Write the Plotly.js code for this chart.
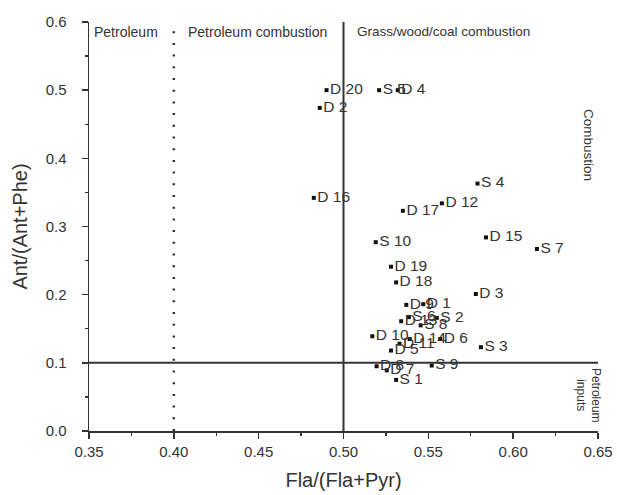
<!DOCTYPE html>
<html>
<head>
<meta charset="utf-8">
<script src="https://cdn.plot.ly/plotly-3.0.1.min.js"></script>
<style>html,body{margin:0;padding:0;background:#fff;}#chart{width:617px;height:495px;}</style>
</head>
<body>
<div id="chart"></div>
<script>
// Sample names
const sampleNames = ["D 20","S 5","D 4","D 2","D 16","S 4","D 12","D 17","S 10","D 15","S 7",
  "D 19","D 18","D 3","D 9","D 1","D 13","S 6","S 2","S 8","D 10","D 11","D 14","D 6",
  "S 3","D 5","D 8","D 7","S 1","S 9"];
// Fla/(Fla+Pyr)
const flaRatio = [0.490,0.521,0.532,0.486,0.4825,0.579,0.558,0.535,0.519,0.584,0.614,
  0.528,0.531,0.578,0.537,0.547,0.534,0.5385,0.555,0.5455,0.517,0.533,0.539,0.557,
  0.581,0.528,0.5195,0.5255,0.531,0.552];
// Ant/(Ant+Phe)
const antRatio = [0.500,0.500,0.500,0.474,0.342,0.363,0.334,0.323,0.277,0.284,0.267,
  0.241,0.218,0.201,0.185,0.186,0.161,0.167,0.166,0.155,0.139,0.128,0.135,0.135,
  0.123,0.118,0.095,0.089,0.075,0.096];
// Diagnostic thresholds
const flaPetroleum = 0.40;
const flaCombustion = 0.50;
const antThreshold = 0.10;

const trace = {
  x: flaRatio, y: antRatio, text: sampleNames,
  type: "scatter", mode: "markers+text",
  textposition: "middle right",
  marker: {symbol: "square", size: 4, color: "#111"},
  textfont: {family: "Liberation Sans, Arial, sans-serif", size: 15.5, color: "#333"},
  cliponaxis: false, hoverinfo: "none"
};

const lineCol = "#333";
const layout = {
  width: 617, height: 495,
  margin: {l: 89, r: 19, t: 22, b: 64},
  paper_bgcolor: "#fff", plot_bgcolor: "#fff",
  showlegend: false,
  font: {family: "Liberation Sans, Arial, sans-serif", color: "#333"},
  xaxis: {
    range: [0.35, 0.65], dtick: 0.05, tickformat: ".2f",
    showgrid: false, zeroline: false,
    showline: true, linecolor: lineCol, linewidth: 1.5,
    ticks: "outside", ticklen: 6, tickwidth: 1.5, tickcolor: lineCol,
    minor: {ticks: "outside", ticklen: 3, tickwidth: 1.2, tickcolor: lineCol, dtick: 0.025, showgrid: false},
    tickfont: {size: 15, color: "#333"},
    title: {text: "Fla/(Fla+Pyr)", font: {size: 20, color: "#333"}, standoff: 14}
  },
  yaxis: {
    range: [0, 0.6], dtick: 0.1, tickformat: ".1f",
    showgrid: false, zeroline: false,
    showline: true, linecolor: lineCol, linewidth: 1.5,
    ticks: "outside", ticklen: 6, tickwidth: 1.5, tickcolor: lineCol,
    ticklabelstandoff: 12,
    minor: {ticks: "outside", ticklen: 3, tickwidth: 1.2, tickcolor: lineCol, dtick: 0.05, showgrid: false},
    tickfont: {size: 15, color: "#333"},
    title: {text: "Ant/(Ant+Phe)", font: {size: 20, color: "#333"}, standoff: 12}
  },
  shapes: [
    {type: "line", xref: "x", yref: "y", x0: flaPetroleum, x1: flaPetroleum, y0: 0, y1: 0.6,
     line: {color: lineCol, width: 2.5, dash: "2px,9.7px"}},
    {type: "line", xref: "x", yref: "y", x0: flaCombustion, x1: flaCombustion, y0: 0, y1: 0.6,
     line: {color: lineCol, width: 2}},
    {type: "line", xref: "x", yref: "y", x0: 0.35, x1: 0.65, y0: antThreshold, y1: antThreshold,
     line: {color: lineCol, width: 2}}
  ],
  annotations: [
    {text: "Petroleum", xref: "x", yref: "paper", x: 0.352, y: 1.0, xanchor: "left", yanchor: "top",
     showarrow: false, font: {size: 14, color: "#333"}},
    {text: "Petroleum combustion", xref: "x", yref: "paper", x: 0.407, y: 1.0, xanchor: "left", yanchor: "top",
     showarrow: false, font: {size: 14, color: "#333"}},
    {text: "Grass/wood/coal combustion", xref: "x", yref: "paper", x: 0.507, y: 1.0, xanchor: "left", yanchor: "top",
     showarrow: false, font: {size: 13.5, color: "#333"}},
    {text: "Combustion", xref: "x", yref: "y", x: 0.644, y: 0.42, xanchor: "center", yanchor: "middle",
     textangle: 90, showarrow: false, font: {size: 13.5, color: "#333"}},
    {text: "Petroleum<br>inputs", xref: "x", yref: "y", x: 0.6445, y: 0.052, xanchor: "center", yanchor: "middle",
     textangle: 90, showarrow: false, font: {size: 12, color: "#333"}}
  ]
};

Plotly.newPlot("chart", [trace], layout, {staticPlot: true, displayModeBar: false});
</script>
</body>
</html>
